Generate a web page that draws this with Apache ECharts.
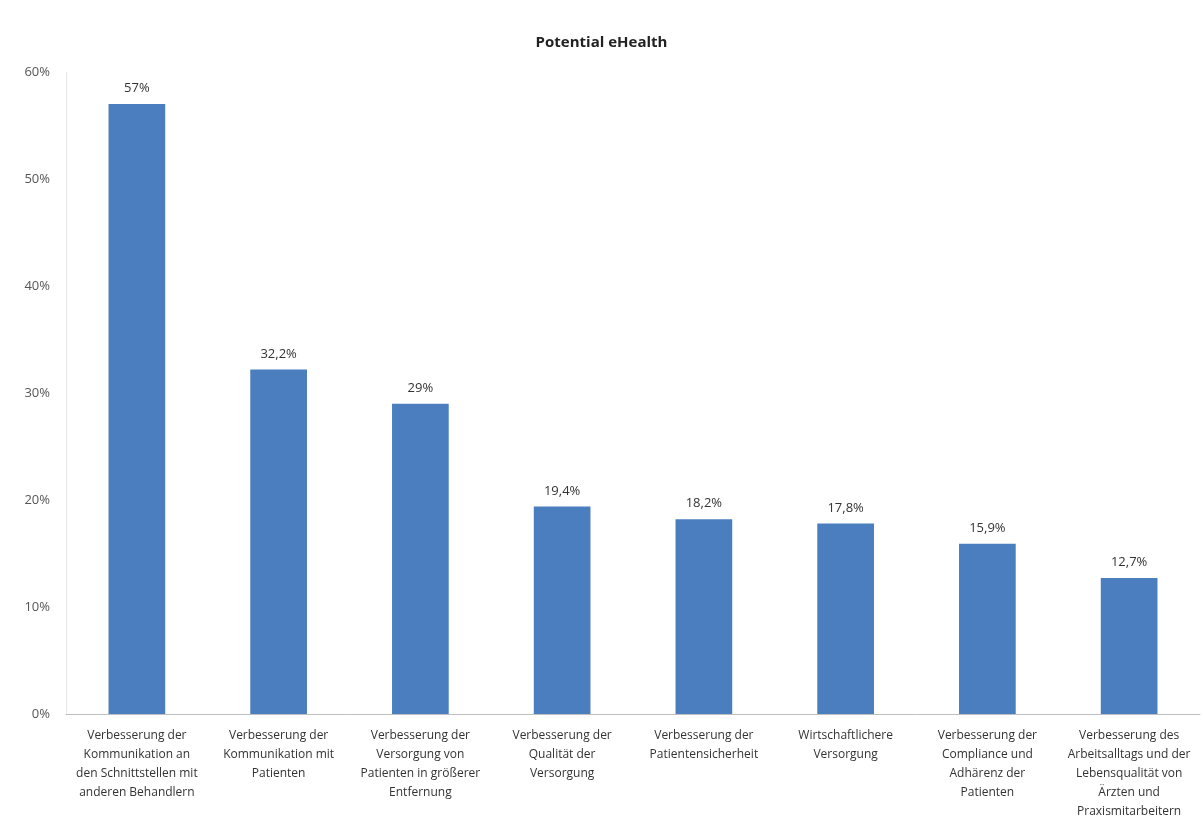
<!DOCTYPE html>
<html>
<head>
<meta charset="utf-8">
<script src="https://cdn.jsdelivr.net/npm/echarts@6/dist/echarts.min.js"></script>
<style>
  html, body { margin: 0; padding: 0; background: #fff; }
  #chart { width: 1203px; height: 820px; }
</style>
</head>
<body>
<div id="chart"></div>
<script>
// Kategorien (mit Zeilenumbrüchen wie im Original)
const categories = [
  'Verbesserung der\nKommunikation an\nden Schnittstellen mit\nanderen Behandlern',
  'Verbesserung der\nKommunikation mit\nPatienten',
  'Verbesserung der\nVersorgung von\nPatienten in größerer\nEntfernung',
  'Verbesserung der\nQualität der\nVersorgung',
  'Verbesserung der\nPatientensicherheit',
  'Wirtschaftlichere\nVersorgung',
  'Verbesserung der\nCompliance und\nAdhärenz der\nPatienten',
  'Verbesserung des\nArbeitsalltags und der\nLebensqualität von\nÄrzten und\nPraxismitarbeitern'
]
// Werte in Prozent
const values = [57, 32.2, 29, 19.4, 18.2, 17.8, 15.9, 12.7]

const fmt = v => String(v).replace('.', ',') + '%'

const chart = echarts.init(document.getElementById('chart'))
chart.setOption({
  animation: false,
  textStyle: { fontFamily: 'Open Sans' },
  title: {
    text: 'Potential eHealth',
    left: 'center',
    top: 30,
    textStyle: { fontSize: 15, fontWeight: 'bold', color: '#222' }
  },
  grid: { left: 66, right: 3, top: 72, bottom: 106, outerBoundsMode: 'none' },
  xAxis: {
    type: 'category',
    data: categories,
    axisLine: { lineStyle: { color: '#bfbfbf' } },
    axisTick: { show: false },
    axisLabel: {
      interval: 0,
      color: '#333',
      fontSize: 12,
      lineHeight: 19,
      margin: 12
    }
  },
  yAxis: {
    type: 'value',
    min: 0,
    max: 60,
    interval: 10,
    axisLine: { show: true, lineStyle: { color: '#e6e6e6' } },
    axisTick: { show: false },
    splitLine: { show: false },
    axisLabel: {
      formatter: v => v + '%',
      color: '#555',
      fontSize: 13,
      margin: 16
    }
  },
  series: [{
    type: 'bar',
    data: values,
    barWidth: '40%',
    itemStyle: { color: '#4a7ebf' },
    label: {
      show: true,
      position: 'top',
      distance: 9,
      color: '#333',
      fontSize: 13,
      formatter: p => fmt(p.value)
    }
  }]
})
</script>
</body>
</html>
